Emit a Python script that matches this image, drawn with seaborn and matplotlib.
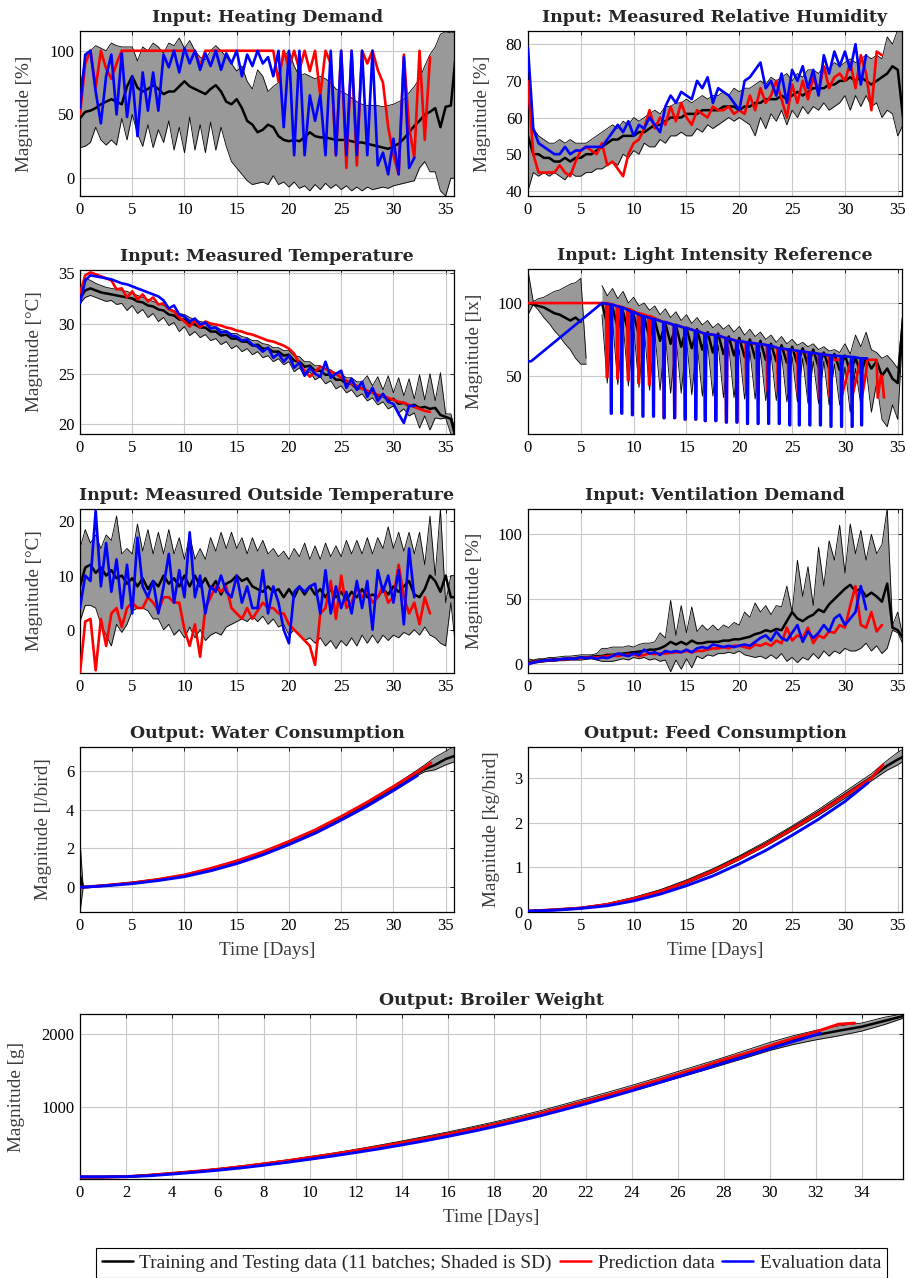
import numpy as np
import pandas as pd
import matplotlib
matplotlib.use("Agg")
import matplotlib.pyplot as plt
from matplotlib.lines import Line2D
import seaborn as sns

nan = np.nan

# ---------------- Heating demand (0.5-day samples) ----------------
hd_mean = [47, 52, 53, 55, 58, 60, 62, 60, 58, 72,
           80, 71, 68, 70, 73, 70, 66, 68, 68, 72,
           76, 72, 70, 68, 66, 70, 73, 68, 60, 58,
           62, 55, 45, 42, 36, 38, 42, 40, 33, 30,
           29, 30, 29, 32, 36, 33, 32, 32, 31, 30,
           30, 30, 29, 28, 28, 27, 26, 25, 24, 23,
           25, 27, 31, 36, 41, 45, 50, 52, 55, 40,
           56, 57, 100]
hd_up = [70, 95, 100, 104, 102, 100, 106, 104, 103, 103,
         103, 92, 103, 100, 106, 103, 98, 106, 104, 110,
         102, 108, 100, 95, 93, 100, 104, 100, 95, 90,
         84, 88, 76, 70, 85, 80, 68, 72, 75, 95,
         100, 88, 80, 82, 80, 78, 80, 78, 75, 70,
         68, 66, 63, 60, 58, 57, 57, 57, 56, 57,
         58, 60, 62, 67, 72, 78, 88, 97, 103, 113,
         115, 114, 115]
hd_lo = [24, 25, 28, 40, 30, 26, 30, 26, 47, 30,
         50, 35, 25, 42, 24, 38, 28, 45, 22, 40,
         20, 48, 22, 42, 20, 44, 22, 40, 25, 13,
         8, 3, -2, -5, -4, -3, -5, 2, -5, -3,
         -7, -3, -8, -6, -10, -5, -9, -4, -8, -5,
         -9, -6, -10, -7, -10, -7, -9, -8, -7, -8,
         -6, -5, -4, -3, -2, 8, 13, 5, 5, -10,
         -14, 0, 0]
hd_pred = [50, 90, 100, 71, 100, 86, 78, 90, 100, 100,
           100, 100, 100, 100, 100, 100, 100, 100, 100, 100,
           100, 100, 100, 88, 100, 100, 100, 100, 100, 100,
           100, 100, 100, 100, 100, 100, 100, 100, 76, 100,
           87, 100, 85, 100, 84, 100, 65, 100, 90, 18,
           100, 8, 100, 10, 100, 90, 100, 85, 75, 40,
           18, 3, 97, 40, 16, 100, 30, 95]
hd_eval = [55, 97, 100, 68, 43, 80, 97, 50, 98, 48,
           80, 33, 83, 53, 83, 53, 97, 87, 100, 83,
           102, 90, 100, 85, 98, 88, 100, 85, 98, 90,
           100, 80, 97, 88, 100, 90, 95, 80, 100, 40,
           100, 18, 100, 18, 65, 45, 65, 18, 100, 18,
           100, 18, 100, 18, 100, 18, 100, 10, 20, 3,
           31, 3, 95, 8, 16]

# ---------------- Relative humidity ----------------
rh_mean = [55, 50, 50, 49, 49, 48, 48, 49, 48, 49,
           49, 50, 50, 51, 52, 53, 54, 54, 55, 55,
           55, 56, 56, 57, 58, 58, 59, 60, 60, 60,
           61, 61, 61, 62, 62, 62, 62, 63, 63, 63,
           62, 63, 63, 64, 64, 65, 65, 65, 66, 65,
           66, 67, 66, 67, 68, 68, 68, 69, 69, 70,
           70, 71, 70, 71, 70, 69, 70, 71, 72, 74,
           73, 60]
rh_up = [75, 57, 55, 54, 53, 53, 54, 53, 54, 53,
         53, 53, 54, 55, 56, 57, 58, 57, 59, 58,
         60, 59, 60, 61, 62, 61, 63, 63, 64, 64,
         65, 64, 65, 66, 65, 66, 66, 67, 66, 68,
         67, 68, 68, 69, 70, 69, 71, 70, 71, 72,
         70, 72, 71, 73, 73, 72, 74, 73, 75, 74,
         75, 76, 75, 76, 77, 76, 77, 76, 82, 80,
         84, 84]
rh_lo = [40, 45, 44, 45, 44, 45, 44, 43, 45, 44,
         44, 45, 45, 46, 46, 47, 48, 47, 50, 49,
         51, 50, 53, 52, 52, 54, 53, 55, 55, 56,
         55, 55, 57, 56, 58, 57, 58, 59, 60, 59,
         60, 59, 58, 55, 60, 57, 61, 59, 62, 58,
         62, 60, 63, 61, 63, 62, 64, 62, 63, 64,
         66, 62, 66, 63, 66, 63, 64, 60, 62, 61,
         55, 58]
rh_pred = [70, 50, 45, 45, 45, 45, 47, 45, 44, 48,
           51, 52, 51, 50, 53, 47, 48, 46, 44, 50,
           53, 54, 57, 62, 57, 60, 58, 63, 59, 64,
           60, 58, 62, 61, 60, 63, 62, 62, 63, 61,
           62, 61, 66, 62, 68, 64, 66, 70, 65, 60,
           69, 64, 70, 65, 71, 67, 74, 68, 71, 72,
           70, 75, 68, 77, 72, 62, 78, 77]
rh_eval = [79, 57, 53, 52, 51, 50, 50, 52, 50, 51,
           51, 52, 52, 52, 52, 54, 56, 58, 56, 59,
           55, 58, 57, 60, 58, 56, 63, 66, 64, 67,
           66, 65, 70, 68, 71, 64, 68, 67, 66, 64,
           62, 70, 71, 73, 75, 68, 70, 66, 72, 64,
           73, 70, 74, 68, 73, 66, 77, 72, 78, 74,
           78, 73, 80, 69, 77]

# ---------------- Measured temperature ----------------
mt_mean = [32.5, 33.3, 33.5, 33.3, 33.1, 33.0, 32.9, 32.8, 32.7, 32.6,
           32.5, 32.2, 32.1, 31.8, 31.7, 31.4, 31.3, 30.9, 30.8, 30.4,
           30.4, 30.0, 29.9, 29.6, 29.6, 29.2, 29.2, 28.8, 28.9, 28.5,
           28.5, 28.2, 28.2, 27.8, 27.9, 27.5, 27.5, 27.2, 27.2, 26.8,
           26.9, 26.3, 26.2, 25.7, 25.8, 25.3, 25.3, 24.9, 24.9, 24.4,
           24.4, 24.0, 24.0, 23.5, 23.6, 23.2, 23.2, 22.8, 22.8, 22.4,
           22.5, 22.0, 22.1, 21.8, 21.9, 21.6, 21.7, 21.5, 21.6, 20.9,
           20.7, 20.5, 18.5]
mt_up = [33.0, 34.5, 34.3, 34.0, 33.8, 33.6, 33.5, 33.4, 33.3, 33.2,
         33.0, 32.8, 32.6, 32.4, 32.2, 32.0, 31.8, 31.5, 31.3, 31.0,
         30.9, 30.6, 30.4, 30.2, 30.1, 29.8, 29.7, 29.4, 29.3, 29.0,
         29.0, 28.7, 28.6, 28.3, 28.3, 28.0, 27.9, 27.6, 27.6, 27.3,
         27.3, 26.8, 26.7, 26.2, 26.2, 25.8, 25.8, 25.4, 25.4, 25.0,
         25.0, 24.6, 24.6, 24.2, 24.2, 24.8, 23.8, 24.7, 23.4, 24.8,
         23.1, 24.6, 22.8, 24.5, 22.5, 24.9, 22.4, 25.0, 22.3, 25.1,
         21.0, 21.0, 19.0]
mt_lo = [32.0, 32.6, 32.8, 32.6, 32.4, 32.2, 32.3, 31.9, 32.0, 31.3,
         31.8, 31.0, 31.4, 30.6, 31.0, 30.2, 30.6, 29.8, 30.1, 29.2,
         29.7, 28.8, 29.2, 28.6, 28.9, 28.3, 28.5, 27.9, 28.2, 27.5,
         27.8, 27.2, 27.5, 26.9, 27.2, 26.6, 26.8, 26.2, 26.5, 25.9,
         26.2, 25.2, 25.6, 24.8, 25.2, 24.4, 24.7, 24.0, 24.3, 23.5,
         23.8, 23.1, 23.4, 22.7, 23.0, 22.3, 22.6, 21.9, 22.2, 21.5,
         21.8, 21.1, 21.5, 20.8, 21.1, 19.6, 20.8, 19.4, 20.6, 20.5,
         20.6, 19.0, 18.5]
mt_pred = [33.0, 34.8, 35.1, 34.9, 34.7, 34.5, 34.3, 33.4, 33.5, 32.6,
           33.2, 32.4, 32.9, 32.2, 32.6, 31.9, 32.0, 31.4, 31.2, 30.6,
           30.2, 29.7, 30.3, 29.6, 30.2, 30.0, 29.9, 29.8, 29.6, 29.5,
           29.3, 29.2, 29.0, 28.9, 28.7, 28.5, 28.3, 28.2, 28.0, 27.8,
           27.5, 27.0, 26.0, 25.3, 24.7, 25.2, 25.7, 25.5, 25.2, 25.0,
           24.6, 24.3, 24.0, 23.8, 23.5, 23.3, 23.1, 22.9, 22.8, 22.6,
           22.4, 22.2, 22.1, 21.9, 21.7, 21.5, 21.3, 21.2]
mt_eval = [32.0, 34.3, 34.8, 34.7, 34.6, 34.5, 34.4, 34.2, 34.0, 33.9,
           33.7, 33.5, 33.3, 33.1, 32.9, 32.7, 32.3, 31.5, 31.8, 30.9,
           30.7, 30.2, 30.5, 29.9, 30.1, 29.5, 29.6, 29.1, 29.2, 28.8,
           28.7, 28.3, 28.4, 27.9, 27.7, 27.2, 27.6, 26.6, 27.0, 26.2,
           26.8, 25.6, 26.1, 24.8, 25.6, 25.0, 24.7, 26.2, 24.6, 25.0,
           25.3, 23.6, 24.5, 23.4, 24.2, 22.7, 23.6, 22.3, 23.0, 22.2,
           22.0, 21.0, 20.1, 21.8, 21.8]

# ---------------- Light intensity reference ----------------
li_mean = [100, 99, 98, 97, 95, 93, 92, 90, 88, 90,
           87, nan, nan, nan, 100, 85, 97, 83, 94, 80,
           92, 78, 90, 76, 88, 74, 86, 72, 85, 70,
           83, 69, 82, 68, 80, 66, 79, 65, 77, 64,
           76, 63, 75, 62, 74, 61, 72, 60, 71, 59,
           70, 58, 69, 57, 68, 56, 66, 55, 65, 54,
           64, 53, 62, 52, 62, 55, 60, 50, 55, 48,
           45, 90]
li_up = [122, 101, 103, 104, 106, 108, 109, 111, 113, 114,
         117, 62, nan, nan, 112, 105, 110, 103, 108, 100,
         104, 98, 100, 95, 98, 92, 96, 90, 94, 88,
         92, 86, 90, 85, 88, 83, 86, 82, 85, 80,
         84, 78, 82, 77, 80, 75, 78, 73, 77, 72,
         75, 71, 73, 70, 72, 68, 70, 67, 68, 66,
         72, 65, 78, 70, 80, 68, 66, 62, 64, 60,
         55, 95]
li_lo = [92, 99, 95, 90, 86, 81, 77, 72, 68, 62,
         58, 58, nan, nan, 92, 45, 88, 44, 86, 43,
         84, 42, 82, 40, 80, 40, 78, 38, 77, 38,
         75, 37, 73, 36, 72, 36, 71, 35, 70, 35,
         68, 34, 67, 34, 66, 33, 65, 33, 64, 32,
         63, 32, 62, 31, 60, 31, 60, 30, 58, 30,
         56, 25, 55, 30, 55, 25, 45, 20, 15, 30,
         20, 85]
li_eval_start_t = [0, 0.3, 7.0]
li_eval_start_v = [60, 60, 100]
li_eval_dip_days = [7.8, 8.8, 9.8, 10.8, 11.8, 12.8, 13.8, 14.8, 15.8, 16.7,
                    17.7, 18.7, 19.7, 20.7, 21.7, 22.7, 23.7, 24.7, 25.6, 26.6,
                    27.6, 28.6, 29.6, 30.6, 31.5]
li_eval_tops = [99, 97, 94, 91, 89, 87, 85, 83, 81, 79,
                78, 76, 74, 73, 72, 71, 69, 68, 67, 66,
                65, 64, 63.5, 63, 62]
li_eval_dips = [24, 24, 23, 22, 22, 21, 21, 20, 20, 19,
                19, 18, 18, 17, 17, 17, 17, 16, 16, 16,
                16, 15, 15, 15, 16]
li_eval_end_t = [32.1]
li_eval_end_v = [62]
li_pred_start_t = [0, 7.0]
li_pred_start_v = [100, 100]
li_pred_dip_days = [7.4, 8.4, 9.4, 10.4, 11.4, 12.8, 13.8, 14.8, 15.8, 16.7,
                    17.7, 18.7, 19.7, 20.6, 21.6, 22.6, 23.6, 24.6, 25.5, 26.5,
                    27.5, 28.5]
li_pred_tops = [100, 98, 96, 93, 91, 87, 85, 83, 81, 79,
                78, 76, 74, 73, 72, 71, 69, 68, 67, 66,
                65, 64]
li_pred_dips = [49, 48, 47, 45, 44, 21, 21, 20, 20, 19,
                19, 18, 18, 40, 41, 40, 39, 38, 37, 36,
                35, 36]
li_pred_end_t = [29.0, 29.6, 29.7, 30.6, 30.7, 31.5, 31.6, 32.0, 32.1, 33.0, 33.1, 33.4, 33.5, 33.7]
li_pred_end_v = [61, 61, 36, 62, 36, 62, 35, 52, 61, 61, 35, 50, 50, 35]

# ---------------- Outside temperature ----------------
ot_mean = [8, 11.5, 12, 10.5, 11.5, 10, 11, 9.5, 10, 8.5,
           9.5, 8, 9.5, 7.5, 9, 8, 10, 8.5, 9.5, 8,
           10, 8, 10, 8, 9.5, 7.5, 9, 6.5, 8.5, 9,
           10, 9, 9.5, 8, 7.5, 7, 8, 7, 7.5, 6,
           7.5, 6, 8, 6.5, 8, 6.5, 7.5, 6, 7.5, 6,
           7, 5.5, 7, 6, 7.5, 6, 6.5, 6, 7.5, 6.5,
           8, 7, 8, 9, 6.5, 6, 7.5, 10, 9, 7,
           10, 6, 6]
ot_up = [15, 18.5, 16, 17.5, 15, 17.5, 16.5, 21, 14, 15,
         14, 19.5, 14.5, 18.5, 14, 18, 14, 18.5, 14, 17,
         13, 17.5, 13, 15, 13, 17, 14.5, 18, 15, 18,
         15, 17, 14, 17, 14.5, 16.5, 14, 15, 13.5, 14.5,
         13, 15, 13.5, 16, 13, 15.5, 13, 16, 13.5, 15.5,
         13.5, 16.5, 14, 16.5, 14, 17, 14, 17, 15, 19,
         15, 18, 14.5, 18, 14, 18, 12, 21, 10, 22.3,
         5, 10, 10]
ot_lo = [1.5, 4.5, 4.5, 4, 1, -1, -3, 1, -0.5, 1,
         3.5, 4, 4, 3.5, 2, 2, 0, 1, -1, 0,
         -1.5, 0.5, -1.5, 0, -2, -1, -0.5, -1, 0.5, 1,
         1.5, 2, 1.5, 2.5, 1.5, 2.5, 1, 2, 0.5, 1,
         -1, 0, -1, -2, -1.5, -2.5, -1.5, -3, -2, -3.5,
         -2, -3, -1.5, -3, -1, -2.5, -1, -2.5, -1, -2,
         -1, -1.5, -0.5, -1, 0, -1, 0.5, -1, -1.5, -2.5,
         -3, 5, -4]
ot_pred = [-8, 1.5, 2, -7.5, 2, -3, 3, 4, 0.5, 4,
           5, 4, 4, 6, 5, 3.5, 6, 6, 5, 5,
           0, -3, 1, -5, 4, 6, 8, 7, 8, 4,
           3, 2, 4, 2, 3.5, 5, 4, 4, 3, 3,
           1, 0, -1, -2, -3, -6.5, 3, 4, 9, 2,
           10, 4, 5, 8, 6, 7, 5, 6, 8, 5,
           6, 12, 6, 3, 5, 1, 6, 3]
ot_eval = [4, 10, 9, 22, 8, 16, 7, 13, 4, 12,
           3, 17, 8, 6, 9, 3, 8, 14, 5, 11,
           6, 18, 6, 10, 3, 8, 7, 10, 7, 6,
           10, 5, 8, 4, 4, 11, 3, 8, 5, 0,
           -2.5, 7, 8, 7, 8, 8.5, 3, 11, 3, 8,
           4, 7, 3, 9, 4, 9, 0, 11, 7, 10,
           5, 11, 1, 15, 6]

# ---------------- Ventilation demand ----------------
vd_mean = [1, 2, 2.5, 3, 3, 3.5, 3.5, 4, 4, 4.5,
           5, 5, 5.5, 6, 6, 7, 7, 7.5, 8, 8.5,
           9, 9.5, 10, 11, 11, 12, 14, 17, 15, 17,
           15, 18, 16, 16, 17, 17, 17, 18, 18, 19,
           19, 20, 21, 23, 24, 26, 25, 27, 26, 33,
           40, 35, 33, 36, 38, 42, 40, 46, 50, 54,
           58, 61, 56, 58, 52, 55, 52, 48, 62, 28,
           26, 20]
vd_up = [4, 3, 4, 4, 5, 5, 5.5, 6, 6, 6.5,
         7, 7, 7, 8, 12, 12, 13, 13, 13, 14,
         13, 15, 16, 16, 17, 24, 20, 49, 22, 45,
         24, 44, 25, 30, 26, 30, 26, 30, 28, 32,
         30, 40, 36, 47, 40, 45, 38, 45, 44, 60,
         40, 80, 52, 75, 45, 90, 60, 95, 80, 107,
         70, 108, 85, 103, 80, 100, 85, 92, 120, 30,
         40, 20]
vd_lo = [-1, 0.5, 1, 1.5, 2, 2, 2.5, 2.5, 3, 3,
         3, 3.5, 4, 3, 2, 2, 2, 3, 4, 3,
         5, 4, 5, 3, 4, 2, 3, -6, 3, -4,
         4, -3, 6, 4, 7, 6, 8, 8, 9, 8,
         10, 7, 6, 5, 6, 4, 7, 4, 8, 2,
         5, 1, 5, 3, 8, 4, 10, 6, 10, 8,
         12, 10, 10, 12, 16, 10, 14, 8, 12, 26,
         24, 15]
vd_pred = [0, 1.5, 2, 2.5, 3, 3, 3.5, 3.5, 4, 4,
           4.5, 5, 5, 5, 5.5, 6, 6.5, 6, 7, 7,
           7.5, 6, 7, 8, 7.5, 8, 8, 8.5, 9, 9,
           10, 9, 10, 10, 11, 12, 12, 13, 12, 14,
           14, 13, 12, 15, 14, 16, 14, 18, 16, 28,
           18, 22, 20, 28, 16, 22, 20, 25, 24, 30,
           28, 45, 60, 30, 28, 40, 25, 30]
vd_eval = [0, 1, 2, 2.5, 3, 3, 3.5, 4, 4, 4,
           5, 4.5, 5, 4, 5, 4.5, 6, 8, 7, 6,
           8, 7, 11, 8, 9, 7, 10, 9, 10, 9,
           11, 9, 12, 13, 12, 15, 14, 13, 14, 13,
           14, 15, 14, 17, 20, 22, 18, 25, 20, 18,
           24, 30, 17, 25, 20, 24, 30, 25, 35, 38,
           30, 35, 40, 60, 42]

# ---------------- Water consumption ----------------
wc_time = [0, 0.3, 1, 2.5, 5, 7.5, 10, 12.5, 15, 17.5, 20, 22.5, 25, 27.5, 30, 32, 33, 34, 35, 35.8]
wc_mean = [0.6, 0.0, 0.02, 0.1, 0.23, 0.4, 0.62, 0.95, 1.33, 1.78, 2.32, 2.9, 3.58, 4.32, 5.12, 5.8, 6.08, 6.3, 6.6, 6.75]
wc_up = [2.4, 0.03, 0.04, 0.12, 0.26, 0.43, 0.66, 0.99, 1.38, 1.84, 2.39, 2.98, 3.67, 4.42, 5.23, 5.93, 6.3, 6.7, 7.0, 7.25]
wc_lo = [-1.3, -0.02, 0.0, 0.08, 0.2, 0.37, 0.58, 0.91, 1.28, 1.72, 2.25, 2.82, 3.49, 4.22, 5.01, 5.67, 5.95, 6.05, 6.3, 6.45]
wc_pred_time = [0, 2.5, 5, 7.5, 10, 12.5, 15, 17.5, 20, 22.5, 25, 27.5, 30, 32.5, 33.6]
wc_pred = [0.0, 0.1, 0.23, 0.41, 0.64, 0.97, 1.36, 1.82, 2.36, 2.95, 3.64, 4.38, 5.18, 6.0, 6.4]
wc_eval_time = [0, 2.5, 5, 7.5, 10, 12.5, 15, 17.5, 20, 22.5, 25, 27.5, 30, 32.3]
wc_eval = [0.0, 0.08, 0.19, 0.35, 0.55, 0.85, 1.22, 1.67, 2.2, 2.78, 3.46, 4.18, 4.98, 5.75]

# ---------------- Feed consumption ----------------
fc_time = [0, 2.5, 5, 7.5, 10, 12.5, 15, 17.5, 20, 22.5, 25, 27.5, 30, 32.5, 34, 35, 35.5]
fc_mean = [0.02, 0.05, 0.09, 0.17, 0.3, 0.47, 0.68, 0.93, 1.22, 1.53, 1.88, 2.24, 2.63, 3.02, 3.28, 3.42, 3.48]
fc_up = [0.03, 0.06, 0.1, 0.19, 0.33, 0.5, 0.72, 0.97, 1.26, 1.58, 1.93, 2.3, 2.7, 3.1, 3.4, 3.58, 3.65]
fc_lo = [0.01, 0.04, 0.08, 0.15, 0.27, 0.44, 0.64, 0.88, 1.17, 1.48, 1.82, 2.17, 2.55, 2.94, 3.18, 3.3, 3.38]
fc_pred_time = [0, 2.5, 5, 7.5, 10, 12.5, 15, 17.5, 20, 22.5, 25, 27.5, 30, 32.5, 33.6]
fc_pred = [0.02, 0.05, 0.09, 0.17, 0.3, 0.46, 0.67, 0.92, 1.2, 1.51, 1.86, 2.22, 2.61, 3.0, 3.3]
fc_eval_time = [0, 2.5, 5, 7.5, 10, 12.5, 15, 17.5, 20, 22.5, 25, 27.5, 30, 32.2]
fc_eval = [0.02, 0.04, 0.08, 0.14, 0.25, 0.4, 0.59, 0.81, 1.08, 1.38, 1.72, 2.08, 2.48, 2.9]

# ---------------- Broiler weight ----------------
bw_time = [0, 1, 2, 3, 4, 5, 6, 7, 8, 9, 10, 11, 12, 13, 14, 15, 16, 17, 18, 19,
           20, 21, 22, 23, 24, 25, 26, 27, 28, 29, 30, 31, 32, 33, 34, 35, 35.8]
bw_mean = [45, 45, 50, 70, 95, 120, 150, 185, 224, 265, 310, 356, 406, 460, 516, 575, 635, 700, 767, 840,
           915, 1000, 1085, 1170, 1258, 1350, 1443, 1537, 1632, 1730, 1830, 1915, 1985, 2045, 2100, 2180, 2245]
bw_up = [55, 55, 58, 78, 103, 129, 160, 196, 236, 279, 325, 372, 424, 480, 538, 599, 661, 728, 797, 872,
         949, 1035, 1122, 1208, 1298, 1392, 1487, 1583, 1680, 1782, 1885, 1975, 2050, 2110, 2150, 2230, 2275]
bw_lo = [35, 35, 42, 62, 87, 111, 140, 174, 212, 251, 295, 340, 388, 440, 494, 551, 609, 672, 737, 808,
         881, 965, 1048, 1132, 1218, 1308, 1399, 1491, 1584, 1678, 1775, 1855, 1920, 1975, 2040, 2130, 2215]
bw_pred_time = [0, 1, 2, 3, 4, 5, 6, 7, 8, 9, 10, 11, 12, 13, 14, 15, 16, 17, 18, 19,
                20, 21, 22, 23, 24, 25, 26, 27, 28, 29, 30, 31, 32, 33, 33.7]
bw_pred = [45, 45, 50, 70, 96, 122, 152, 187, 226, 267, 312, 358, 408, 460, 514, 572, 632, 695, 762, 835,
           912, 995, 1080, 1168, 1260, 1355, 1450, 1545, 1650, 1740, 1840, 1940, 2030, 2135, 2150]
bw_eval_time = [0, 1, 2, 3, 4, 5, 6, 7, 8, 9, 10, 11, 12, 13, 14, 15, 16, 17, 18, 19,
                20, 21, 22, 23, 24, 25, 26, 27, 28, 29, 30, 31, 32, 32.2]
bw_eval = [48, 48, 50, 62, 85, 110, 138, 170, 206, 246, 288, 333, 380, 430, 484, 540, 600, 664, 732, 805,
           880, 962, 1046, 1134, 1224, 1318, 1414, 1508, 1605, 1702, 1800, 1895, 1990, 2010]

legend_labels = ["Training and Testing data (11 batches; Shaded is SD)", "Prediction data", "Evaluation data"]

# ---------------- style ----------------
sns.set_theme(style="white")
plt.rcParams["font.family"] = ["Liberation Serif", "DejaVu Serif"]
plt.rcParams["axes.unicode_minus"] = False

W, H = 909, 1278
BAND = "#999999"
GRID = "#c8c8c8"
LABEL = "#3a3a3a"
RED = "#ff0000"
BLUE = "#0000ff"

fig = plt.figure(figsize=(W / 100, H / 100), dpi=100)


def add_ax(l, t, r, b):
    return fig.add_axes([l / W, 1 - b / H, (r - l) / W, (b - t) / H])


def halfday(v):
    return np.arange(len(v)) * 0.5


def segments(mask):
    idx = np.flatnonzero(mask)
    if len(idx) == 0:
        return []
    return np.split(idx, np.flatnonzero(np.diff(idx) > 1) + 1)


def line(ax, t, v, color, lw, z):
    t = np.asarray(t, float)
    v = np.asarray(v, float)
    n = min(len(t), len(v))
    t, v = t[:n], v[:n]
    for s in segments(~np.isnan(v)):
        if len(s) < 2:
            continue
        sns.lineplot(x=t[s], y=v[s], ax=ax, color=color, linewidth=lw,
                     estimator=None, sort=False, legend=False, zorder=z)


def band(ax, t, mean, lo, up, lw_mean=1.8):
    t = np.asarray(t, float)
    lo = np.asarray(lo, float)
    up = np.asarray(up, float)
    n = min(len(t), len(lo), len(up))
    t, lo, up = t[:n], lo[:n], up[:n]
    for s in segments(~(np.isnan(lo) | np.isnan(up))):
        ax.fill_between(t[s], lo[s], up[s], color=BAND, linewidth=0, zorder=1)
    line(ax, t, lo, "black", 0.6, 1.5)
    line(ax, t, up, "black", 0.6, 1.5)
    line(ax, t, mean, "black", lw_mean, 2)


def dip_series(st, sv, days, tops, bots, et, ev):
    xs, ys = list(st), list(sv)
    for d, tp, bt in zip(days, tops, bots):
        xs += [d, d + 0.05, d + 0.11, d + 0.16]
        ys += [tp, bt, bt, tp]
    xs += list(et)
    ys += list(ev)
    return xs, ys


def style(ax, title, ylabel, ylim, yticks, xlim, xticks, ylab_x, xlabel=False):
    ax.set_xlim(*xlim)
    ax.set_ylim(*ylim)
    ax.set_xticks(xticks)
    ax.set_yticks(yticks)
    ax.grid(True, color=GRID, linewidth=0.8)
    ax.set_axisbelow(True)
    for sp in ax.spines.values():
        sp.set_visible(True)
        sp.set_color("black")
        sp.set_linewidth(0.9)
    ax.tick_params(direction="in", length=3, width=0.6, top=True, right=True,
                   labelsize=12, pad=4, colors="black")
    ax.set_title(title, fontsize=12.5, fontweight="bold", family=["DejaVu Serif"], pad=6.5)
    ax.set_ylabel(ylabel, fontsize=13.8, color=LABEL)
    ax.yaxis.set_label_coords(ylab_x, 0.5)
    if xlabel:
        ax.set_xlabel("Time [Days]", fontsize=13.8, color=LABEL)
        ax.xaxis.set_label_coords(0.5, -0.18)
    else:
        ax.set_xlabel("")


xt5 = [0, 5, 10, 15, 20, 25, 30, 35]

# 1 Heating demand
ax = add_ax(80, 31, 454, 196)
band(ax, halfday(hd_mean), hd_mean, hd_lo, hd_up)
line(ax, halfday(hd_pred), hd_pred, RED, 1.9, 3)
line(ax, halfday(hd_eval), hd_eval, BLUE, 1.9, 4)
style(ax, "Input: Heating Demand", "Magnitude [%]", (-14, 115.5), [0, 50, 100], (0, 35.8), xt5, -0.126)

# 2 Relative humidity
ax = add_ax(528, 31, 902, 196)
band(ax, halfday(rh_mean), rh_mean, rh_lo, rh_up)
line(ax, halfday(rh_pred), rh_pred, RED, 1.9, 3)
line(ax, halfday(rh_eval), rh_eval, BLUE, 1.9, 4)
style(ax, "Input: Measured Relative Humidity", "Magnitude [%]", (38.6, 83.6), [40, 50, 60, 70, 80], (0, 35.4), xt5, -0.10)

# 3 Measured temperature
ax = add_ax(80, 270, 454, 434)
band(ax, halfday(mt_mean), mt_mean, mt_lo, mt_up)
line(ax, halfday(mt_pred), mt_pred, RED, 1.9, 3)
line(ax, halfday(mt_eval), mt_eval, BLUE, 1.9, 4)
style(ax, "Input: Measured Temperature", "Magnitude [°C]", (19.0, 35.33), [20, 25, 30, 35], (0, 35.8), xt5, -0.099)

# 4 Light intensity
ax = add_ax(528, 269, 902, 434)
band(ax, halfday(li_mean), li_mean, li_lo, li_up)
px, py = dip_series(li_pred_start_t, li_pred_start_v, li_pred_dip_days, li_pred_tops, li_pred_dips,
                    li_pred_end_t, li_pred_end_v)
line(ax, px, py, RED, 1.9, 3)
ex, ey = dip_series(li_eval_start_t, li_eval_start_v, li_eval_dip_days, li_eval_tops, li_eval_dips,
                    li_eval_end_t, li_eval_end_v)
line(ax, ex, ey, BLUE, 1.9, 4)
style(ax, "Input: Light Intensity Reference", "Magnitude [lx]", (10, 123.4), [50, 100], (0, 35.4), xt5, -0.12)

# 5 Outside temperature
ax = add_ax(80, 509, 454, 673)
band(ax, halfday(ot_mean), ot_mean, ot_lo, ot_up)
line(ax, halfday(ot_pred), ot_pred, RED, 1.9, 3)
line(ax, halfday(ot_eval), ot_eval, BLUE, 1.9, 4)
style(ax, "Input: Measured Outside Temperature", "Magnitude [°C]", (-8, 22.3), [0, 10, 20], (0, 35.8), xt5, -0.099)

# 6 Ventilation demand
ax = add_ax(528, 509, 902, 673)
band(ax, halfday(vd_mean), vd_mean, vd_lo, vd_up)
line(ax, halfday(vd_pred), vd_pred, RED, 1.9, 3)
line(ax, halfday(vd_eval), vd_eval, BLUE, 1.9, 4)
style(ax, "Input: Ventilation Demand", "Magnitude [%]", (-7, 119.5), [0, 50, 100], (0, 35.4), xt5, -0.12)

# 7 Water consumption
ax = add_ax(80, 747, 454, 912)
band(ax, wc_time, wc_mean, wc_lo, wc_up)
line(ax, wc_pred_time, wc_pred, RED, 2.1, 3)
line(ax, wc_eval_time, wc_eval, BLUE, 2.1, 4)
style(ax, "Output: Water Consumption", "Magnitude [l/bird]", (-1.27, 7.22), [0, 2, 4, 6], (0, 35.8), xt5, -0.075, True)

# 8 Feed consumption
ax = add_ax(528, 747, 902, 912)
band(ax, fc_time, fc_mean, fc_lo, fc_up)
line(ax, fc_pred_time, fc_pred, RED, 2.1, 3)
line(ax, fc_eval_time, fc_eval, BLUE, 2.1, 4)
style(ax, "Output: Feed Consumption", "Magnitude [kg/bird]", (0, 3.7), [0, 1, 2, 3], (0, 35.4), xt5, -0.075, True)

# 9 Broiler weight
ax = add_ax(80, 1014, 903, 1179)
band(ax, bw_time, bw_mean, bw_lo, bw_up)
line(ax, bw_pred_time, bw_pred, RED, 2.1, 3)
line(ax, bw_eval_time, bw_eval, BLUE, 2.1, 4)
style(ax, "Output: Broiler Weight", "Magnitude [g]", (18, 2274), [1000, 2000], (0, 35.8),
      list(range(0, 35, 2)), -0.067, True)

handles = [Line2D([0], [0], color="black", lw=1.8),
           Line2D([0], [0], color=RED, lw=1.8),
           Line2D([0], [0], color=BLUE, lw=1.8)]
leg = fig.legend(handles, legend_labels, loc="center", bbox_to_anchor=(491.5 / W, 1 - 1263 / H),
                 ncol=3, frameon=True, fancybox=False, edgecolor="black", framealpha=1,
                 fontsize=13.95, handlelength=1.6, handletextpad=0.35, columnspacing=0.4,
                 borderpad=0.3, borderaxespad=0)
leg.get_frame().set_linewidth(0.8)

fig.savefig("out.png", dpi=100)
